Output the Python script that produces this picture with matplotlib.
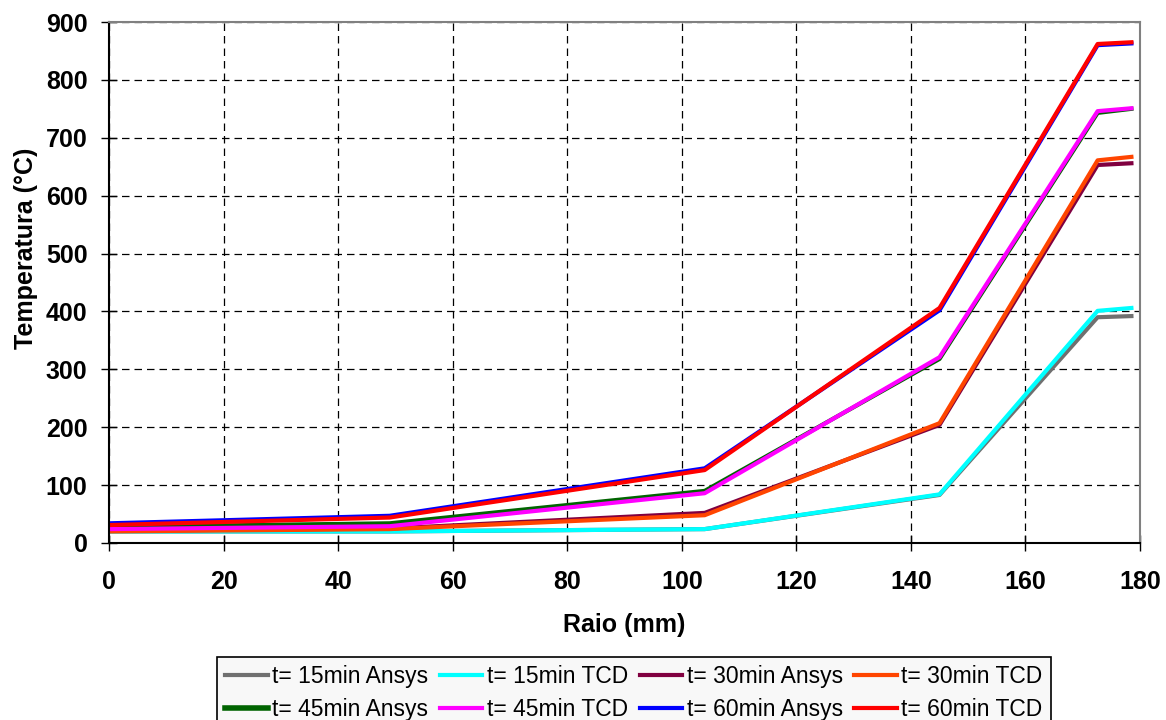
import numpy as np
import matplotlib
matplotlib.use('Agg')
import matplotlib.pyplot as plt

plt.rcParams['font.family'] = ['Liberation Sans', 'DejaVu Sans']

# raio (mm)
raio = [0, 49, 104, 145, 172.6, 178.5]

# temperaturas (C)
t15_ansys = [20, 20, 24, 83, 390, 392]
t15_tcd = [20, 20, 24, 84, 401, 406]
t30_ansys = [21, 25, 52, 204, 653, 656]
t30_tcd = [20, 24, 48, 207, 661, 667]
t45_ansys = [28, 34, 90, 318, 743, 750]
t45_tcd = [24, 29, 86, 321, 746, 751]
t60_ansys = [34, 47, 129, 402, 860, 863]
t60_tcd = [31, 44, 126, 406, 862, 865]

series = [
    (t15_ansys, '#707070', 't= 15min Ansys'),
    (t15_tcd, '#00FFFF', 't= 15min TCD'),
    (t30_ansys, '#800040', 't= 30min Ansys'),
    (t30_tcd, '#FF4500', 't= 30min TCD'),
    (t45_ansys, '#006400', 't= 45min Ansys'),
    (t45_tcd, '#FF00FF', 't= 45min TCD'),
    (t60_ansys, '#0000FF', 't= 60min Ansys'),
    (t60_tcd, '#FF0000', 't= 60min TCD'),
]

fig = plt.figure(figsize=(11.66, 7.2), dpi=100)
ax = fig.add_axes([109/1166, 1-543/720, (1140-109)/1166, (543-22)/720])

linhas = []
for y, c, lab in series:
    l, = ax.plot(raio, y, color=c, lw=3, label=lab)
    linhas.append(l)

ax.set_xlim(0, 180)
ax.set_ylim(0, 900)
ax.set_xticks(np.arange(0, 181, 20))
ax.set_yticks(np.arange(0, 901, 100))
ax.grid(True, color='black', linestyle=(0, (6, 4)), lw=0.9)
ax.tick_params(axis='y', direction='inout', length=11, width=1, labelsize=18, pad=10)
ax.tick_params(axis='x', direction='inout', length=11, width=1, labelsize=18, pad=14)
for lab in ax.get_xticklabels() + ax.get_yticklabels():
    lab.set_fontweight('bold')
ax.spines['left'].set_color('black')
ax.spines['bottom'].set_color('black')
ax.spines['top'].set_color('#808080')
ax.spines['right'].set_color('#808080')
for s in ax.spines.values():
    s.set_linewidth(1.5)

ax.set_xlabel('Raio (mm)', fontsize=18, fontweight='bold')
ax.set_ylabel('Temperatura (°C)', fontsize=18, fontweight='bold')
ax.xaxis.set_label_coords(0.5, (543-613)/521)
ax.yaxis.set_label_coords((38-109)/1031, (543-248)/521)

# legenda em 2 linhas x 4 colunas (preenchimento por coluna)
ordem = [0, 4, 1, 5, 2, 6, 3, 7]
leg = fig.legend([linhas[i] for i in ordem], [series[i][2] for i in ordem],
                 loc='upper center', ncol=4, bbox_to_anchor=(634/1166, 1-657/720),
                 fontsize=16.5, frameon=True, fancybox=False, edgecolor='black',
                 facecolor='#f8f8f8', framealpha=1, handlelength=1.85, handletextpad=0.2,
                 columnspacing=0.5, labelspacing=0.42, borderpad=0.35, borderaxespad=0)
leg.get_frame().set_linewidth(1.2)
for i, h in zip(ordem, leg.legend_handles):
    h.set_linewidth(4 if i == 4 else 3)

fig.savefig('out.png', dpi=100)
